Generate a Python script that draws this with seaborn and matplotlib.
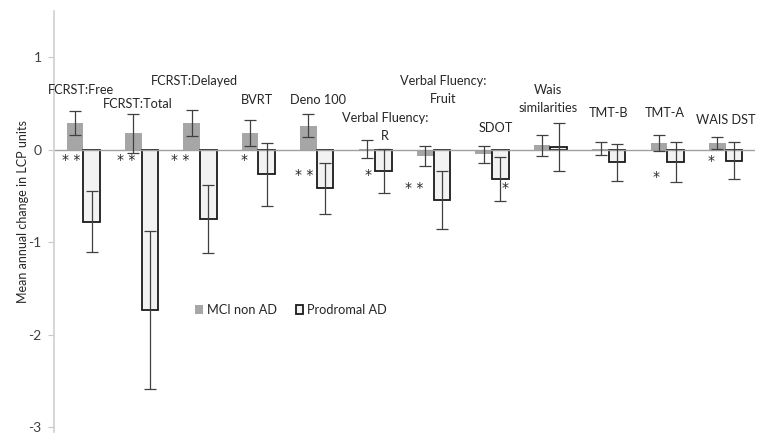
import pandas as pd
import matplotlib.pyplot as plt
import seaborn as sns
from matplotlib.patches import Patch

# data (mean annual change, +/- error)
tests = ['FCRST:Free', 'FCRST:Total', 'FCRST:Delayed', 'BVRT', 'Deno 100',
         'Verbal Fluency:\nR', 'Verbal Fluency:\nFruit', 'SDOT',
         'Wais\nsimilarities', 'TMT-B', 'TMT-A', 'WAIS DST']
mci = [0.29, 0.175, 0.285, 0.175, 0.26, 0.005, -0.07, -0.05, 0.045, 0.01, 0.07, 0.075]
mci_err = [0.13, 0.21, 0.14, 0.14, 0.12, 0.10, 0.11, 0.09, 0.11, 0.07, 0.085, 0.065]
prod = [-0.78, -1.735, -0.75, -0.265, -0.42, -0.23, -0.545, -0.32, 0.025, -0.135, -0.135, -0.12]
prod_err = [0.33, 0.85, 0.37, 0.34, 0.28, 0.24, 0.31, 0.24, 0.26, 0.20, 0.22, 0.20]
stars = ['**', '**', '**', '*', '**', '*', '**', '*', '', '', '*', '*']
groups = ['MCI non AD', 'Prodromal AD']

# layout for the annotations (x offset from group, y in data units)
label_pos = [(-0.04, 0.65), (-0.06, 0.49), (-0.09, 0.74), (-0.02, 0.535), (0.02, 0.535),
             (0.17, 0.25), (0.16, 0.64), (0.07, 0.23), (-0.04, 0.546), (0.0, 0.40),
             (-0.04, 0.40), (0.0, 0.32)]
star_pos = [(-0.21, -0.11), (-0.27, -0.11), (-0.34, -0.11), (-0.25, -0.11), (-0.22, -0.27),
            (-0.12, -0.27), (-0.34, -0.41), (0.22, -0.42), (0, 0), (0, 0),
            (-0.19, -0.30), (-0.25, -0.12)]

df = pd.DataFrame({
    'test': tests * 2,
    'group': [groups[0]] * len(tests) + [groups[1]] * len(tests),
    'value': mci + prod,
})

sns.set_style('white')
plt.rcParams['font.family'] = ['Lato', 'DejaVu Sans']
plt.rcParams['axes.unicode_minus'] = False

fig = plt.figure(figsize=(7.64, 4.47), dpi=100)
ax = fig.add_axes([0.0707, 0.0345, 0.9173, 0.941])

gray = '#a6a6a6'
light = '#f2f2f2'
sns.barplot(data=df, x='test', y='value', hue='group', hue_order=groups,
            palette=[gray, light], width=0.57, errorbar=None, legend=False, ax=ax)

for bar in ax.containers[1]:
    bar.set_edgecolor('#1a1a1a')
    bar.set_linewidth(1.3)
for bar in ax.containers[0]:
    bar.set_edgecolor('none')

for cont, vals, errs in [(ax.containers[0], mci, mci_err), (ax.containers[1], prod, prod_err)]:
    xs = [b.get_x() + b.get_width() / 2 for b in cont]
    ax.errorbar(xs, vals, yerr=errs, fmt='none', ecolor='#404040',
                elinewidth=0.9, capsize=4, capthick=0.9, zorder=5)

ax.axhline(0, color='#a0a0a0', lw=1, zorder=1)

for i, t in enumerate(tests):
    dx, y = label_pos[i]
    ax.text(i + dx, y, t, ha='center', va='center', fontsize=9.2,
            color='#262626', linespacing=1.6)
    if stars[i]:
        sx, sy = star_pos[i]
        ax.text(i + sx, sy, ' '.join(stars[i]), ha='center', va='center',
                fontsize=10, color='#262626', family='DejaVu Sans')

ax.set_xlim(-0.5, len(tests) - 0.5)
ax.set_ylim(-3.05, 1.5)
ax.set_yticks([-3, -2, -1, 0, 1])
ax.set_xticks([])
ax.set_xlabel('')
ax.set_ylabel('Mean annual change in LCP units', fontsize=9, color='#262626')
ax.yaxis.set_label_coords(-0.036, 0.522)
ax.tick_params(axis='y', left=True, length=4, color='#c8c8c8', labelsize=10,
               labelcolor='#404040', pad=5)
for s in ['top', 'right', 'bottom']:
    ax.spines[s].set_visible(False)
ax.spines['left'].set_color('#d0d0d0')
ax.spines['left'].set_linewidth(1.2)

handles = [Patch(facecolor=gray, edgecolor='none'),
           Patch(facecolor=light, edgecolor='#1a1a1a', linewidth=1.3)]
ax.legend(handles, groups, loc='center left', bbox_to_anchor=(0.185, 0.289), ncol=2,
          frameon=False, handlelength=0.6, handleheight=0.6, handletextpad=0.3,
          columnspacing=1.5, fontsize=9.2)

plt.savefig('out.png', dpi=100)
